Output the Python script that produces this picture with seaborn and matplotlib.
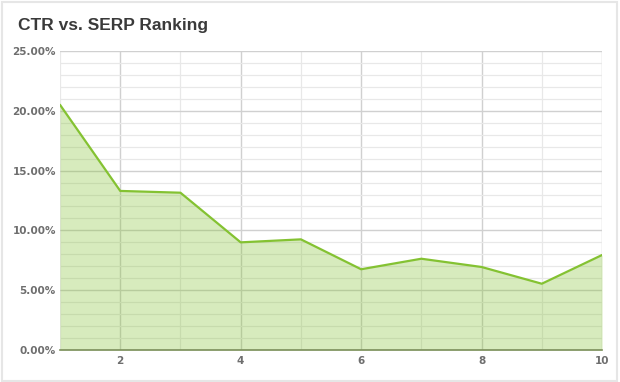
import matplotlib
matplotlib.use("Agg")
import matplotlib.pyplot as plt
import seaborn as sns
import pandas as pd
from matplotlib.ticker import MultipleLocator, FuncFormatter
from matplotlib.patches import Rectangle

rank = [1, 2, 3, 4, 5, 6, 7, 8, 9, 10]
ctr = [20.5, 13.3, 13.15, 9.0, 9.25, 6.75, 7.63, 6.94, 5.54, 7.94]
title = "CTR vs. SERP Ranking"

df = pd.DataFrame({"rank": rank, "ctr": ctr})

sns.set_style("white")
plt.rcParams['font.family'] = ['Liberation Sans', 'DejaVu Sans']

fig = plt.figure(figsize=(6.2, 3.82), dpi=100)
ax = fig.add_axes([0.0968, 0.0838, 0.8742, 0.7827])

fig.patches.append(Rectangle((0.003, 0.003), 0.992, 0.992, transform=fig.transFigure,
                             fill=False, edgecolor="#e6e6e6", linewidth=1.5))

ax.fill_between(df["rank"], df["ctr"], 0, color="#84c232", alpha=0.32, zorder=3, linewidth=0)
sns.lineplot(data=df, x="rank", y="ctr", ax=ax, color="#84c232", linewidth=1.6, zorder=4)

ax.set_xlim(1, 10)
ax.set_ylim(0, 25)
ax.yaxis.set_major_locator(MultipleLocator(5))
ax.yaxis.set_minor_locator(MultipleLocator(1))
ax.xaxis.set_major_locator(MultipleLocator(2))
ax.xaxis.set_minor_locator(MultipleLocator(1))
ax.yaxis.set_major_formatter(FuncFormatter(lambda v, p: f"{v:.2f}%"))

ax.set_axisbelow(True)
ax.grid(which="major", color="#d0d0d0", linewidth=1.0)
ax.grid(which="minor", color="#e8e8e8", linewidth=0.9)
for s in ["top", "right", "left"]:
    ax.spines[s].set_visible(False)
ax.spines["bottom"].set_color("#7c8f5c")
ax.spines["bottom"].set_linewidth(1.2)
ax.spines["bottom"].set_zorder(5)

ax.tick_params(axis="both", which="both", length=0, labelsize=7.5, labelcolor="#6e6e6e")
ax.tick_params(axis="y", pad=3)
ax.tick_params(axis="x", pad=4)
for lbl in ax.get_xticklabels() + ax.get_yticklabels():
    lbl.set_fontweight("bold")
    lbl.set_family(["DejaVu Sans"])
ax.set_xlabel("")
ax.set_ylabel("")

fig.text(0.029, 0.932, title, fontsize=12.5, fontweight="bold", color="#3a3a3a", va="center", ha="left")

fig.savefig("out.png", dpi=100)
